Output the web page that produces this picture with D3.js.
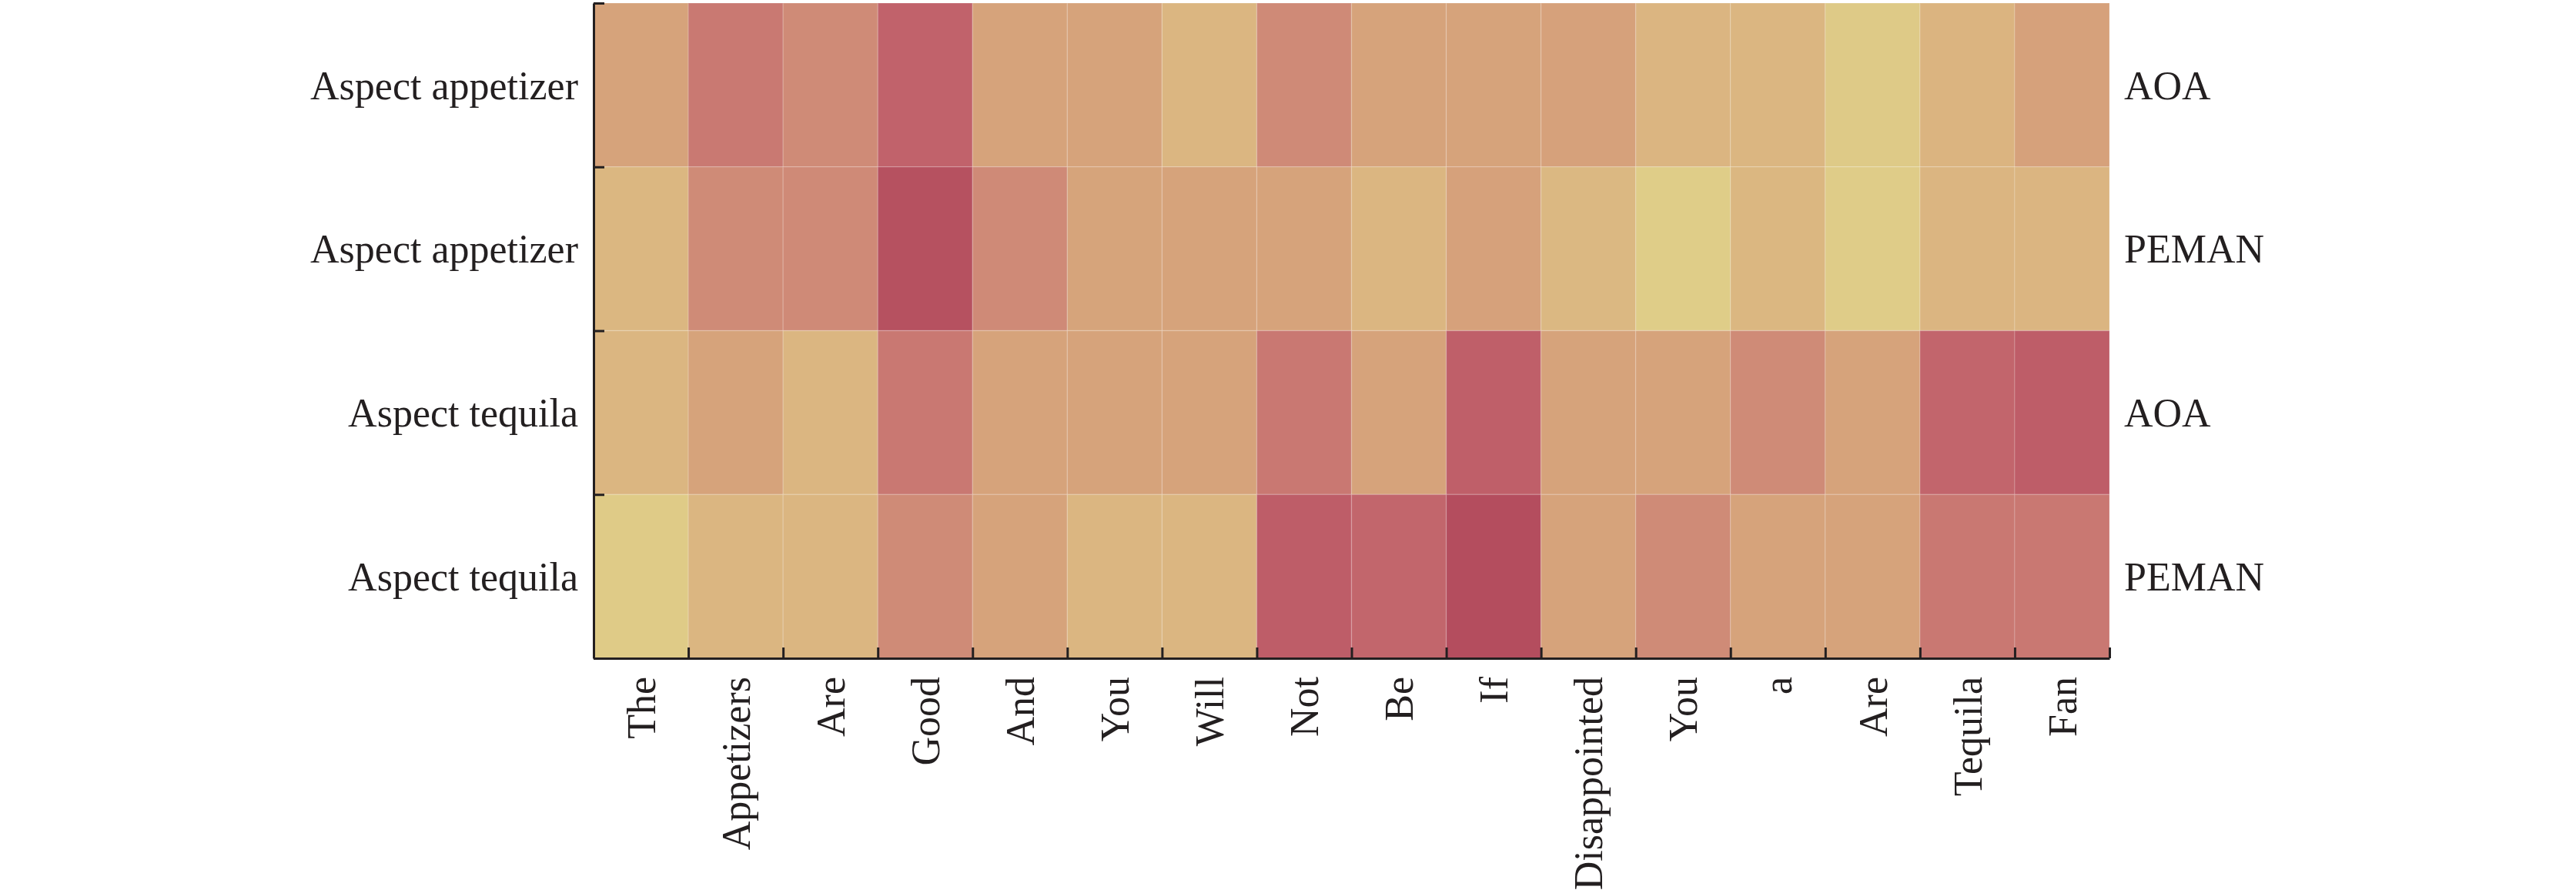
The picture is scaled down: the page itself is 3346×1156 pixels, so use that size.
<!DOCTYPE html>
<html>
<head>
<meta charset="utf-8">
<script src="https://cdn.jsdelivr.net/npm/d3@7"></script>
<style>
html, body { margin: 0; padding: 0; background: #ffffff; }
svg { display: block; }
</style>
</head>
<body>
<svg id="chart" width="3346" height="1156"></svg>
<script>
// ---- data ----
const words = ["The", "Appetizers", "Are", "Good", "And", "You", "Will", "Not", "Be", "If", "Disappointed", "You", "a", "Are", "Tequila", "Fan"];
const rowLabels = ["Aspect appetizer", "Aspect appetizer", "Aspect tequila", "Aspect tequila"];
const modelLabels = ["AOA", "PEMAN", "AOA", "PEMAN"];
const aoaAppetizer   = [0.40, 0.69, 0.55, 0.84, 0.40, 0.40, 0.20, 0.56, 0.40, 0.40, 0.41, 0.21, 0.20, 0.03, 0.22, 0.41];
const pemanAppetizer = [0.19, 0.55, 0.56, 0.97, 0.56, 0.39, 0.40, 0.40, 0.20, 0.41, 0.18, 0.00, 0.19, 0.01, 0.21, 0.21];
const aoaTequila     = [0.20, 0.40, 0.20, 0.70, 0.40, 0.40, 0.40, 0.70, 0.40, 0.86, 0.40, 0.40, 0.55, 0.40, 0.82, 0.87];
const pemanTequila   = [0.02, 0.20, 0.20, 0.55, 0.40, 0.20, 0.20, 0.87, 0.81, 1.00, 0.40, 0.55, 0.40, 0.40, 0.70, 0.70];
const rowsData = [aoaAppetizer, pemanAppetizer, aoaTequila, pemanTequila];

// ---- layout ----
const plotLeft = 771, plotRight = 2740, plotTop = 4, plotBottom = 855;
const font = "'Liberation Serif', 'Times New Roman', Times, serif";
const fontSize = 52;
const axisColor = "#231f20";

const svg = d3.select("#chart");

const x = d3.scaleBand().domain(d3.range(words.length)).range([plotLeft, plotRight]).padding(0);
const y = d3.scaleBand().domain(d3.range(rowsData.length)).range([plotTop, plotBottom]).padding(0);

const color = d3.scaleLinear()
  .domain([0, 0.2, 0.4, 0.55, 0.7, 0.85, 1.0])
  .range(["#dfcd88", "#dbb681", "#d6a37b", "#cf8b77", "#c97872", "#c0606a", "#b44d5e"])
  .interpolate(d3.interpolateRgb)
  .clamp(true);

const cells = [];
rowsData.forEach((row, r) => row.forEach((v, c) => cells.push({ r, c, v })));

svg.append("g").selectAll("rect")
  .data(cells)
  .join("rect")
  .attr("x", d => x(d.c))
  .attr("y", d => y(d.r))
  .attr("width", x.bandwidth())
  .attr("height", y.bandwidth())
  .attr("fill", d => color(d.v))
  .attr("stroke", "rgba(255,255,255,0.14)")
  .attr("stroke-width", 1.5);

// ---- axes (inward ticks at cell boundaries) ----
const xb = d3.scaleLinear().domain([0, words.length]).range([plotLeft, plotRight]);
const yb = d3.scaleLinear().domain([0, rowsData.length]).range([plotTop, plotBottom]);

const xAxis = d3.axisBottom(xb).tickValues(d3.range(words.length + 1)).tickSize(-14).tickSizeOuter(0).tickFormat("");
const gx = svg.append("g").attr("transform", `translate(0,${plotBottom})`).call(xAxis);
gx.select(".domain").attr("stroke", axisColor).attr("stroke-width", 3);
gx.selectAll(".tick line").attr("stroke", axisColor).attr("stroke-width", 3);

const yAxis = d3.axisLeft(yb).tickValues(d3.range(rowsData.length + 1)).tickSize(-14).tickSizeOuter(0).tickFormat("");
const gy = svg.append("g").attr("transform", `translate(${plotLeft},0)`).call(yAxis);
gy.select(".domain").attr("stroke", axisColor).attr("stroke-width", 3);
gy.selectAll(".tick line").attr("stroke", axisColor).attr("stroke-width", 3);

// ---- labels ----
svg.append("g").selectAll("text")
  .data(words)
  .join("text")
  .attr("transform", (d, i) => `translate(${x(i) + x.bandwidth() / 2},${plotBottom + 24}) rotate(-90)`)
  .attr("text-anchor", "end")
  .attr("dy", "0.35em")
  .attr("font-family", font)
  .attr("font-size", fontSize)
  .attr("fill", axisColor)
  .text(d => d);

svg.append("g").selectAll("text")
  .data(rowLabels)
  .join("text")
  .attr("x", plotLeft - 20)
  .attr("y", (d, i) => y(i) + y.bandwidth() / 2)
  .attr("text-anchor", "end")
  .attr("dy", "0.35em")
  .attr("font-family", font)
  .attr("font-size", fontSize)
  .attr("fill", axisColor)
  .text(d => d);

svg.append("g").selectAll("text")
  .data(modelLabels)
  .join("text")
  .attr("x", plotRight + 19)
  .attr("y", (d, i) => y(i) + y.bandwidth() / 2)
  .attr("text-anchor", "start")
  .attr("dy", "0.35em")
  .attr("font-family", font)
  .attr("font-size", fontSize)
  .attr("fill", axisColor)
  .text(d => d);
</script>
</body>
</html>
